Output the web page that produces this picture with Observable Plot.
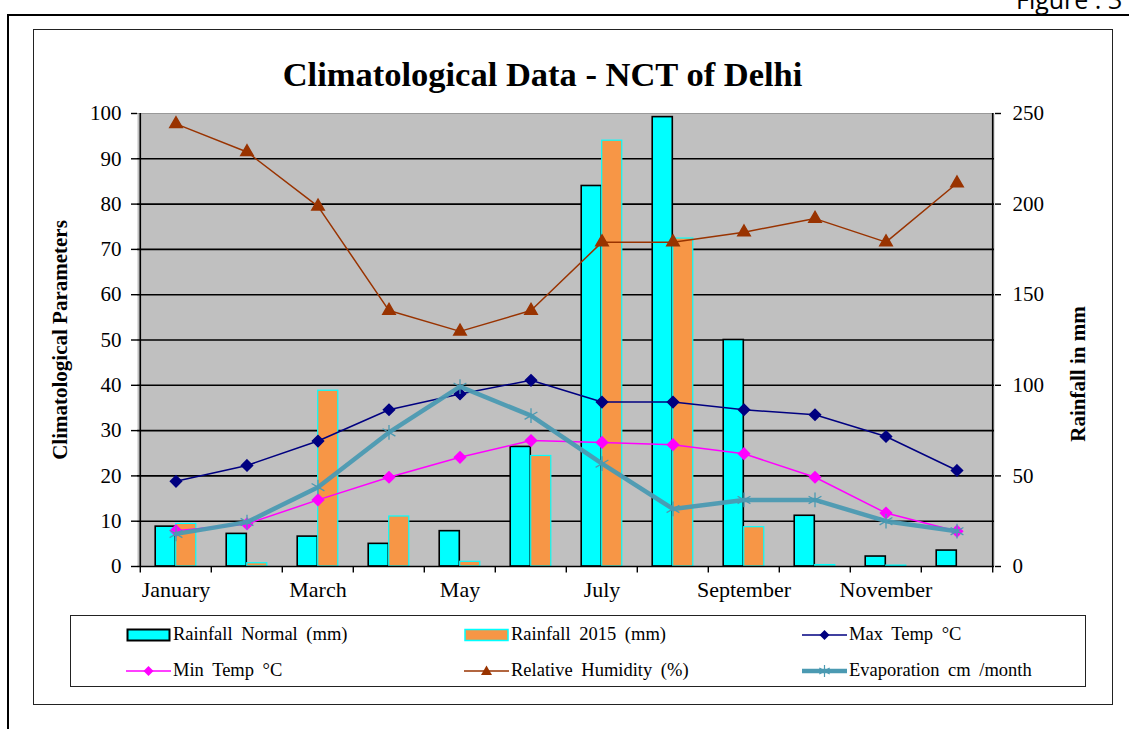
<!DOCTYPE html>
<html>
<head>
<meta charset="utf-8">
<script src="https://cdn.jsdelivr.net/npm/d3@7"></script>
<script src="https://cdn.jsdelivr.net/npm/@observablehq/plot@0.6"></script>
<style>
  html, body { margin: 0; padding: 0; background: #fff; }
  #wrap { position: relative; width: 1131px; height: 729px; overflow: hidden; font-family: "Liberation Serif", serif; }
  #wrap > svg { position: absolute; left: 0; top: 0; }
  .abs { position: absolute; }
  #figlabel { left: 1016px; top: -13px; font-family: "Open Sans", sans-serif; font-size: 25px; line-height: 25px; color: #000; white-space: nowrap; }
  #outerTop { left: 7px; top: 14px; width: 1122px; height: 0; border-top: 2px solid #000; }
  #outerLeft { left: 7px; top: 14px; width: 0; height: 730px; border-left: 2px solid #000; }
  #inner { left: 33px; top: 29px; width: 1078px; height: 674px; border: 1.5px solid #222; }
  #title { left: 0; width: 1085px; top: 54px; text-align: center; font-weight: bold; font-size: 34.5px; line-height: 40px; }
  #legend { left: 70px; top: 615px; width: 1014px; height: 70px; border: 1.5px solid #222; }
  .li { position: absolute; display: flex; align-items: center; font-size: 18.5px; white-space: nowrap; }
  .li svg { display: block; margin-right: 2px; }
</style>
</head>
<body>
<div id="wrap">
  <div id="outerTop" class="abs"></div>
  <div id="outerLeft" class="abs"></div>
  <div id="figlabel" class="abs">Figure : 3</div>
  <div id="inner" class="abs"></div>
  <div id="title" class="abs">Climatological Data - NCT of Delhi</div>
  <div id="legend" class="abs"></div>
</div>
<script>
// ---- data ----
const months = ["January","February","March","April","May","June","July","August","September","October","November","December"];
const rainNormal = [22, 18, 16.5, 12.5, 19.5, 66, 210, 248, 125, 28, 5.5, 8.8];      // mm (right axis)
const rain2015   = [23.5, 1.8, 97, 27.6, 2.6, 61, 235, 181, 21.7, 0.8, 0.5, 0];        // mm (right axis)
const maxTemp    = [18.8, 22.3, 27.7, 34.6, 38.1, 41.1, 36.3, 36.3, 34.6, 33.5, 28.7, 21.2];
const minTemp    = [7.9, 9.4, 14.7, 19.7, 24.1, 27.8, 27.4, 26.9, 24.9, 19.7, 11.8, 7.8];
const humidity   = [97.7, 91.5, 79.5, 56.5, 51.9, 56.5, 71.6, 71.6, 73.8, 76.8, 71.6, 84.6];
const evaporation= [7.2, 9.8, 17.5, 29.6, 39.7, 33.3, 22.7, 12.7, 14.7, 14.7, 10, 7.8];
const leftTicks  = [0,10,20,30,40,50,60,70,80,90,100];
const rightTicks = [0,50,100,150,200,250];
const monthLabels = ["January","March","May","July","September","November"];

const seriesNames = {
  rn: "Rainfall Normal (mm)", r15: "Rainfall 2015 (mm)", max: "Max Temp °C",
  min: "Min Temp °C", rh: "Relative Humidity (%)", ev: "Evaporation cm /month"
};
const leftTitle = "Climatological Parameters";
const rightTitle = "Rainfall in mm";

// ---- derived tables ----
const ratio = 100 / 250; // right axis (mm) to left axis units
const rows = months.map((m, i) => ({
  month: m, rn: rainNormal[i], r15: rain2015[i], max: maxTemp[i],
  min: minTemp[i], rh: humidity[i], ev: evaporation[i]
}));

const W = 1131, H = 729;
const mL = 137, mR = 137, mT = 113, mB = 163;
const band = (W - mL - mR) / months.length;
const half = band / 2;
const barW = 20.5;

const C = {
  cyan: "#00FFFF", orange: "#F79646", navy: "#000080", magenta: "#FF00FF",
  brown: "#993300", teal: "#4B9AB2", bg: "#C0C0C0"
};

const plot = Plot.plot({
  width: W, height: H,
  marginLeft: mL, marginRight: mR, marginTop: mT, marginBottom: mB,
  style: { fontFamily: "Liberation Serif, serif", fontSize: "21px", color: "#000", background: "transparent" },
  x: { type: "band", domain: months, padding: 0, axis: null },
  y: { domain: [0, 100], axis: null },
  marks: [
    Plot.frame({ fill: C.bg, stroke: null }),
    Plot.ruleY(leftTicks.filter(d => d > 0 && d < 100), { stroke: "#000", strokeWidth: 1.6 }),
    Plot.ruleY([100], { stroke: "#999", strokeWidth: 1.2 }),
    // bars
    Plot.barY(rows, { x: "month", y: d => d.rn * ratio, fill: C.cyan, stroke: "#000", strokeWidth: 1.6,
      insetLeft: half - barW, insetRight: half }),
    Plot.barY(rows, { x: "month", y: d => d.r15 * ratio, fill: C.orange, stroke: C.cyan, strokeWidth: 1.2,
      insetLeft: half, insetRight: half - barW }),
    // axes lines
    Plot.ruleY([0], { stroke: "#000", strokeWidth: 1.6 }),
    Plot.ruleX([months[0]], { dx: -half, stroke: "#000", strokeWidth: 1.6 }),
    Plot.ruleX([months[11]], { dx: half, stroke: "#000", strokeWidth: 1.6 }),
    // bottom boundary ticks
    Plot.ruleX(months, { x: d => d, y1: 0, y2: -1.45, dx: -half, stroke: "#000", strokeWidth: 1.4 }),
    Plot.ruleX([months[11]], { y1: 0, y2: -1.45, dx: half, stroke: "#000", strokeWidth: 1.4 }),
    // axes
    Plot.axisY({ anchor: "left", ticks: leftTicks, tickSize: 6, tickPadding: 10, fontSize: 21, label: null, strokeWidth: 1.4 }),
    Plot.axisY({ anchor: "right", ticks: rightTicks.map(d => d * ratio), tickFormat: d => Math.round(d / ratio),
      tickSize: 6, tickPadding: 12, fontSize: 21, label: null, strokeWidth: 1.4 }),
    Plot.axisX({ ticks: monthLabels, tickSize: 0, tickPadding: 15, fontSize: 22, label: null }),
    // axis titles
    Plot.text([leftTitle], { text: d => d, frameAnchor: "left", textAnchor: "middle", dx: -77, rotate: -90,
      fontWeight: "bold", fontSize: 21 }),
    Plot.text([rightTitle], { text: d => d, frameAnchor: "right", textAnchor: "middle", dx: 84, dy: 34, rotate: -90,
      fontWeight: "bold", fontSize: 21 }),
    // lines
    Plot.line(rows, { x: "month", y: "rh", stroke: C.brown, strokeWidth: 1.5 }),
    Plot.dot(rows, { x: "month", y: "rh", symbol: "triangle", r: 4.6, fill: C.brown, stroke: C.brown }),
    Plot.line(rows, { x: "month", y: "max", stroke: C.navy, strokeWidth: 1.5 }),
    Plot.dot(rows, { x: "month", y: "max", symbol: "diamond2", r: 5, fill: C.navy, stroke: C.navy }),
    Plot.line(rows, { x: "month", y: "min", stroke: C.magenta, strokeWidth: 1.5 }),
    Plot.dot(rows, { x: "month", y: "min", symbol: "diamond2", r: 5, fill: C.magenta, stroke: C.magenta }),
    Plot.line(rows, { x: "month", y: "ev", stroke: C.teal, strokeWidth: 4.5, strokeOpacity: 0.95 }),
    Plot.dot(rows, { x: "month", y: "ev", symbol: "asterisk", r: 7, stroke: C.teal, strokeWidth: 1.3 })
  ]
});
document.getElementById("wrap").insertBefore(plot, document.getElementById("outerTop"));

// ---- legend ----
const legend = document.getElementById("legend");
function swatch(kind) {
  const ns = "http://www.w3.org/2000/svg";
  const s = document.createElementNS(ns, "svg");
  s.setAttribute("width", 45); s.setAttribute("height", 16);
  const add = (tag, attrs) => { const e = document.createElementNS(ns, tag); for (const k in attrs) e.setAttribute(k, attrs[k]); s.appendChild(e); return e; };
  if (kind === "rn") add("rect", { x: 1.5, y: 2.5, width: 42, height: 11, fill: C.cyan, stroke: "#000", "stroke-width": 2 });
  else if (kind === "r15") add("rect", { x: 1, y: 2.5, width: 43, height: 11, fill: C.orange, stroke: C.cyan, "stroke-width": 1.5 });
  else {
    const col = { max: C.navy, min: C.magenta, rh: C.brown, ev: C.teal }[kind];
    add("line", { x1: 0, x2: 45, y1: 8, y2: 8, stroke: col, "stroke-width": kind === "ev" ? 4.5 : 1.5 });
    if (kind === "max" || kind === "min") add("path", { d: "M22.5,3 L27.5,8 L22.5,13 L17.5,8 Z", fill: col });
    if (kind === "rh") add("path", { d: "M22.5,2.5 L28,12 L17,12 Z", fill: col });
    if (kind === "ev") add("path", { d: "M22.5,2 L22.5,14 M17.3,5 L27.7,11 M17.3,11 L27.7,5", stroke: col, "stroke-width": 1.2, fill: "none" });
  }
  return s;
}
const items = [
  ["rn", 55, 8], ["r15", 393, 8], ["max", 731, 8],
  ["min", 55, 44], ["rh", 393, 44], ["ev", 731, 44]
];
items.forEach(([k, x, y]) => {
  const d = document.createElement("div");
  d.className = "li";
  d.style.left = x + "px"; d.style.top = y + "px";
  d.appendChild(swatch(k));
  const t = document.createElement("span");
  t.textContent = seriesNames[k];
  t.style.wordSpacing = "4px";
  d.appendChild(t);
  legend.appendChild(d);
});
</script>
</body>
</html>
